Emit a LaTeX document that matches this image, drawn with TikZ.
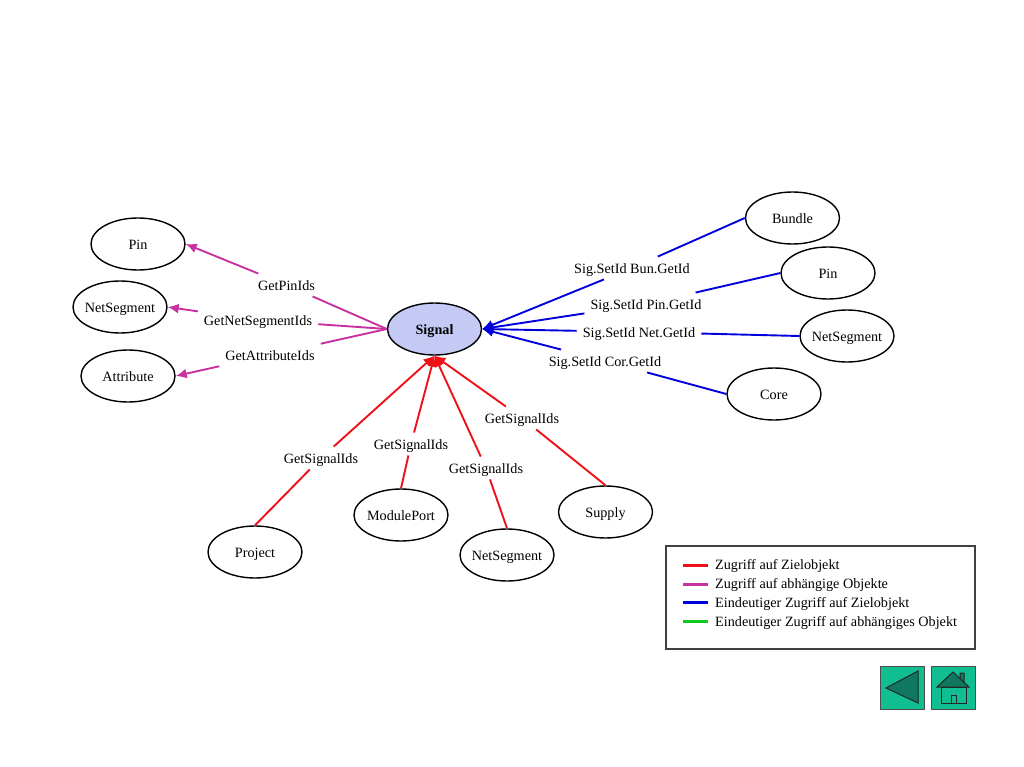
\documentclass[tikz,border=0pt]{standalone}
\usepackage{fontspec}
\setmainfont{Liberation Serif}
\usetikzlibrary{shapes.geometric,arrows.meta}
\definecolor{cred}{RGB}{240,16,24}
\definecolor{cmag}{RGB}{200,50,160}
\definecolor{cblue}{RGB}{0,0,220}
\definecolor{cgreen}{RGB}{16,200,30}
\definecolor{cbtn}{RGB}{16,190,145}
\definecolor{cdark}{RGB}{15,120,95}
\tikzset{
  txt/.style={font=\fontsize{14.2}{16}\selectfont,text height=12pt,text depth=0.5pt},
  obj/.style={txt,draw=black,line width=1.4pt,fill=white,ellipse,minimum width=94pt,minimum height=52pt,inner sep=-6pt},
  lbl/.style={txt,inner xsep=6pt,inner ysep=5pt},
  edgeline/.style={line width=1.9pt},
  tip/.style={-{Latex[length=11pt,width=10pt]}},
  legtext/.style={txt,anchor=west,inner sep=0pt},
  legline/.style={line width=3pt},
  btn/.style={draw=black!70,line width=1pt,fill=cbtn},
  glyph/.style={draw=black!85,line width=1pt,fill=cdark}
}
\begin{document}
\begin{tikzpicture}[x=1pt,y=-1pt]
\useasboundingbox (0,0) rectangle (1024,767);
% nodes
\node[obj,fill={rgb,255:red,197;green,202;blue,245},font=\fontsize{14.2}{16}\selectfont\bfseries] (signal) at (434.5,329) {Signal};
\node[obj] (pinL) at (138,244) {Pin};
\node[obj] (nsL) at (120,307) {NetSegment};
\node[obj] (attr) at (128,376) {Attribute};
\node[obj] (bundle) at (792.5,218) {Bundle};
\node[obj] (pinR) at (828,273) {Pin};
\node[obj] (nsR) at (847,336) {NetSegment};
\node[obj] (core) at (774,394) {Core};
\node[obj] (project) at (255,552) {Project};
\node[obj] (mport) at (401,515) {ModulePort};
\node[obj] (nsB) at (507,555) {NetSegment};
\node[obj] (supply) at (605.5,512) {Supply};
% labels
\node[lbl] (l1) at (286.5,285) {GetPinIds};
\node[lbl] (l2) at (258,320) {GetNetSegmentIds};
\node[lbl] (l3) at (270,355) {GetAttributeIds};
\node[lbl] (l4) at (632,268) {Sig.SetId Bun.GetId};
\node[lbl] (l5) at (646,304) {Sig.SetId Pin.GetId};
\node[lbl] (l6) at (639,332) {Sig.SetId Net.GetId};
\node[lbl] (l7) at (605,361) {Sig.SetId Cor.GetId};
\node[lbl] (l8) at (321,458) {GetSignalIds};
\node[lbl] (l9) at (411,444) {GetSignalIds};
\node[lbl] (l10) at (486,468) {GetSignalIds};
\node[lbl] (l11) at (522,418) {GetSignalIds};
% magenta
\draw[edgeline,cmag] (signal.west) -- (l1);
\draw[edgeline,cmag,tip] (l1) -- (pinL.east);
\draw[edgeline,cmag] (signal.west) -- (l2);
\draw[edgeline,cmag,tip] (l2) -- (nsL.east);
\draw[edgeline,cmag] (signal.west) -- (l3);
\draw[edgeline,cmag,tip] (l3) -- (attr.east);
% blue
\draw[edgeline,cblue,tip] (l4) -- (signal.east);
\draw[edgeline,cblue] (bundle.west) -- (l4);
\draw[edgeline,cblue,tip] (l5) -- (signal.east);
\draw[edgeline,cblue] (pinR.west) -- (l5);
\draw[edgeline,cblue,tip] (l6) -- (signal.east);
\draw[edgeline,cblue] (nsR.west) -- (l6);
\draw[edgeline,cblue,tip] (l7) -- (signal.east);
\draw[edgeline,cblue] (core.west) -- (l7);
% red
\draw[edgeline,cred,tip] (l8) -- (signal.south);
\draw[edgeline,cred] (project.north) -- (l8);
\draw[edgeline,cred,tip] (l9) -- (signal.south);
\draw[edgeline,cred] (mport.north) -- (l9);
\draw[edgeline,cred,tip] (l10) -- (signal.south);
\draw[edgeline,cred] (nsB.north) -- (l10);
\draw[edgeline,cred,tip] (l11) -- (signal.south);
\draw[edgeline,cred] (supply.north) -- (l11);
% legend
\draw[draw=black!75,line width=1.2pt,fill=white] (666,546) rectangle (975,649);
\draw[legline,cred] (683,565) -- (708,565);
\draw[legline,cmag] (683,584) -- (708,584);
\draw[legline,cblue] (683,602) -- (708,602);
\draw[legline,cgreen] (683,621) -- (708,621);
\node[legtext] (t1) at (715,564) {Zugriff auf Zielobjekt};
\node[legtext] (t2) at (715,583) {Zugriff auf abhängige Objekte};
\node[legtext] (t3) at (715,601.5) {Eindeutiger Zugriff auf Zielobjekt};
\node[legtext] (t4) at (715,620.5) {Eindeutiger Zugriff auf abhängiges Objekt};
% buttons
\draw[btn] (880,666) rectangle (924,709);
\draw[glyph] (886,688) -- (918,671) -- (918,703) -- cycle;
\draw[btn] (931,666) rectangle (975,709);
\draw[glyph] (960,680) -- (960,673) -- (964,673) -- (964,684) -- cycle;
\draw[draw=black!85,line width=1pt,fill=cbtn] (941,687) rectangle (966,703);
\draw[glyph] (937,687) -- (953,672) -- (969,687) -- cycle;
\draw[draw=black!85,line width=1pt] (951,703) -- (951,695) -- (956,695) -- (956,703);
\end{tikzpicture}
\end{document}
